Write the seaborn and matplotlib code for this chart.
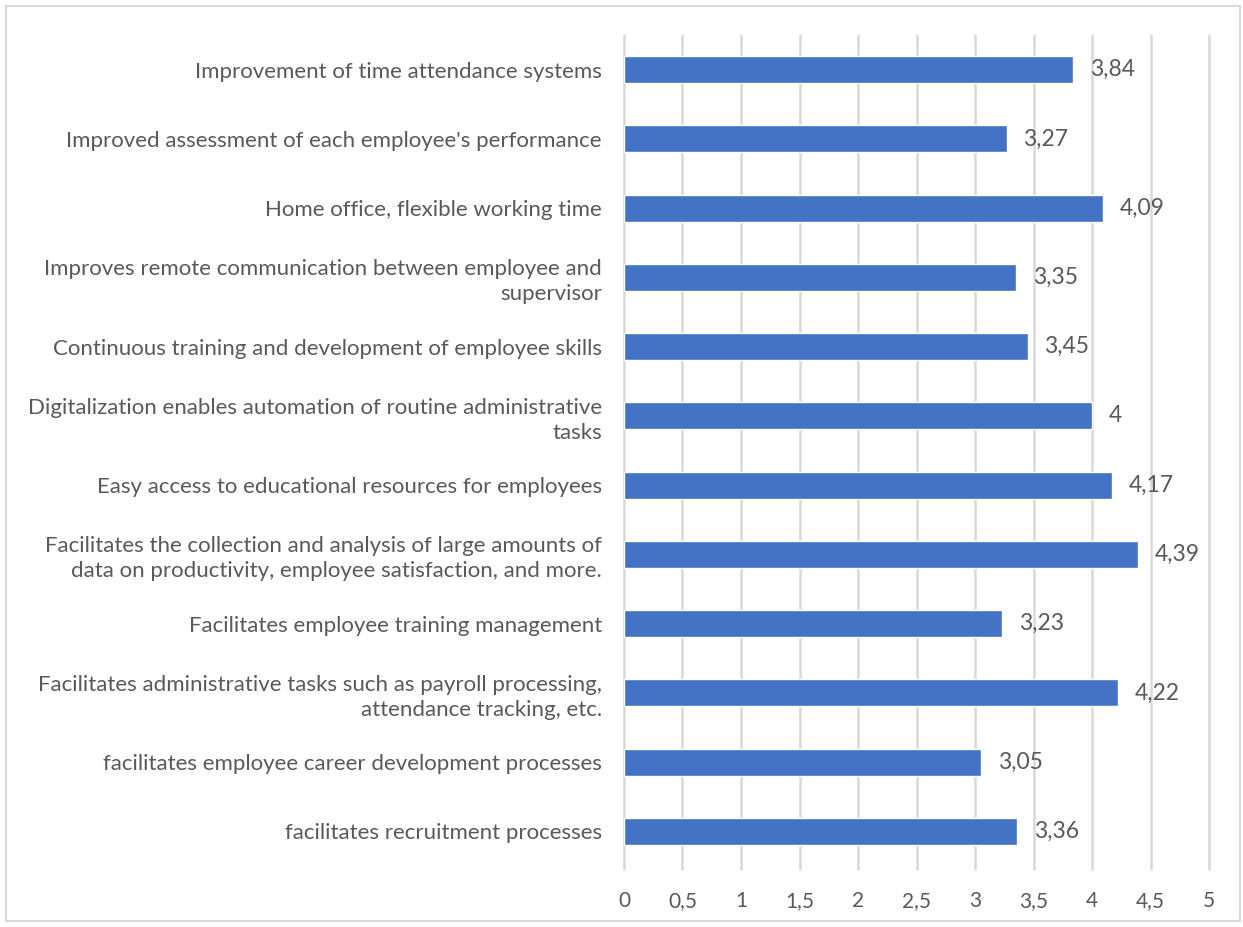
import matplotlib
matplotlib.use("Agg")
import matplotlib.pyplot as plt
import seaborn as sns
import pandas as pd

categories = [
    "Improvement of time attendance systems",
    "Improved assessment of each employee's performance",
    "Home office, flexible working time",
    "Improves remote communication between employee and\nsupervisor",
    "Continuous training and development of employee skills",
    "Digitalization enables automation of routine administrative\ntasks",
    "Easy access to educational resources for employees",
    "Facilitates the collection and analysis of large amounts of\ndata on productivity, employee satisfaction, and more.",
    "Facilitates employee training management",
    "Facilitates administrative tasks such as payroll processing,\nattendance tracking, etc.",
    "facilitates employee career development processes",
    "facilitates recruitment processes",
]
values = [3.84, 3.27, 4.09, 3.35, 3.45, 4.00, 4.17, 4.39, 3.23, 4.22, 3.05, 3.36]
xticks = [0, 0.5, 1, 1.5, 2, 2.5, 3, 3.5, 4, 4.5, 5]

df = pd.DataFrame({"item": categories, "score": values})

sns.set_style("white")
plt.rcParams["font.family"] = ["Lato", "DejaVu Sans"]
grey_txt = "#595959"

fig = plt.figure(figsize=(12.43, 9.27), dpi=100)
ax = fig.add_axes([0.502, 0.0658, 0.4707, 0.8964])

sns.barplot(data=df, x="score", y="item", orient="h", color="#4472C4",
            width=0.39, saturation=1, ax=ax)

ax.set_xlim(0, 5)
ax.set_ylim(len(categories) - 0.5, -0.5)
ax.set_xticks(xticks)
ax.set_xticklabels([f"{t:g}".replace(".", ",") for t in xticks])
ax.grid(axis="x", color="#D9D9D9", linewidth=1.8)
for gl in ax.get_xgridlines():
    gl.set_clip_on(False)
ax.set_axisbelow(True)
for s in ax.spines.values():
    s.set_visible(False)
ax.set_xlabel("")
ax.set_ylabel("")
ax.tick_params(axis="x", length=0, pad=18, labelsize=15, labelcolor=grey_txt)
ax.tick_params(axis="y", length=0, pad=16, labelsize=16, labelcolor=grey_txt)
for lbl in ax.get_yticklabels():
    lbl.set_linespacing(1.3)

labels = [f"{v:g}".replace(".", ",") for v in values]
ax.bar_label(ax.containers[0], labels=labels, padding=12, fontsize=16.5, color=grey_txt)

# extend gridlines a little below the plot area like Excel
for t in xticks:
    ax.plot([t, t], [len(categories) - 0.5, len(categories) - 0.5 + 0.05], color="#D9D9D9",
            lw=1.8, clip_on=False)

fig.patches.append(plt.Rectangle((6 / 1243, 6 / 927), 1 - 9 / 1243, 1 - 12 / 927,
                                 transform=fig.transFigure, fill=False,
                                 edgecolor="#D9D9D9", lw=1.5))

fig.savefig("out.png", dpi=100, facecolor="white")
